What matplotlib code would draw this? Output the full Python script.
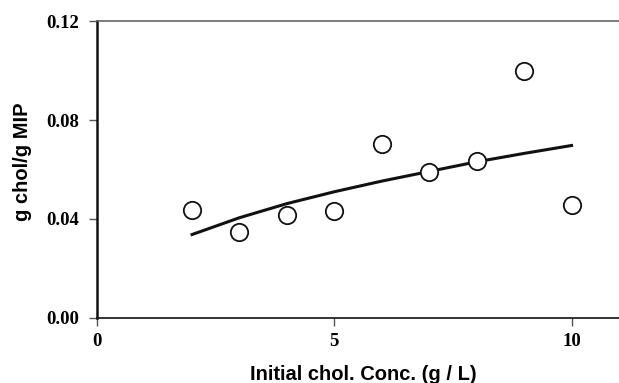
import numpy as np
import matplotlib.pyplot as plt

# measured uptake points
conc = [2, 3, 4, 5, 6, 7, 8, 9, 10]
uptake = [0.0435, 0.0348, 0.0415, 0.0434, 0.0703, 0.0591, 0.0635, 0.0999, 0.0455]

# fitted curve
fit_x = [2, 3, 4, 5, 6, 7, 8, 9, 10]
fit_y = [0.0337, 0.0405, 0.0462, 0.0510, 0.0553, 0.0592, 0.0631, 0.0665, 0.0697]

xticks = [0, 5, 10]
yticks = [0.00, 0.04, 0.08, 0.12]

fig = plt.figure( figsize=( 6.19, 3.83 ), dpi=100 )
ax = fig.add_axes( [ 0.157, 0.170, 0.843, 0.775 ] )

ax.plot( fit_x, fit_y, '-', color='#111111', lw=2.2, zorder=2 )
ax.plot( conc, uptake, 'o', ms=12.5, mfc='white', mec='#111111', mew=1.3, zorder=3 )

ax.set_xlim( 0, 11 )
ax.set_ylim( 0, 0.12 )
ax.set_xticks( xticks )
ax.set_yticks( yticks )
ax.set_xticklabels( [ str( t ) for t in xticks ], family='Liberation Serif', fontweight='bold', fontsize=13.5 )
ax.set_yticklabels( [ '%.2f' % t for t in yticks ], family='Liberation Serif', fontweight='bold', fontsize=13.5 )
ax.tick_params( axis='both', direction='out', length=6, width=1, color='#555555' )
ax.tick_params( axis='y', pad=7 )
ax.tick_params( axis='x', pad=5 )

ax.spines['right'].set_visible( False )
ax.spines['top'].set_color( '#666666' )
ax.spines['top'].set_linewidth( 1.2 )
ax.spines['left'].set_linewidth( 1.8 )
ax.spines['left'].set_color( '#111111' )
ax.spines['bottom'].set_linewidth( 1.2 )
ax.spines['bottom'].set_color( '#111111' )

ax.set_xlabel( 'Initial chol. Conc. (g / L)', family='Liberation Sans', fontweight='bold', fontsize=14.5 )
ax.set_ylabel( 'g chol/g MIP', family='Liberation Sans', fontweight='bold', fontsize=14.5 )
ax.xaxis.set_label_coords( 0.51, -0.158 )
ax.yaxis.set_label_coords( -0.125, 0.525 )
ax.xaxis.label.set_va( 'top' )

fig.savefig( 'out.png', dpi=100 )
